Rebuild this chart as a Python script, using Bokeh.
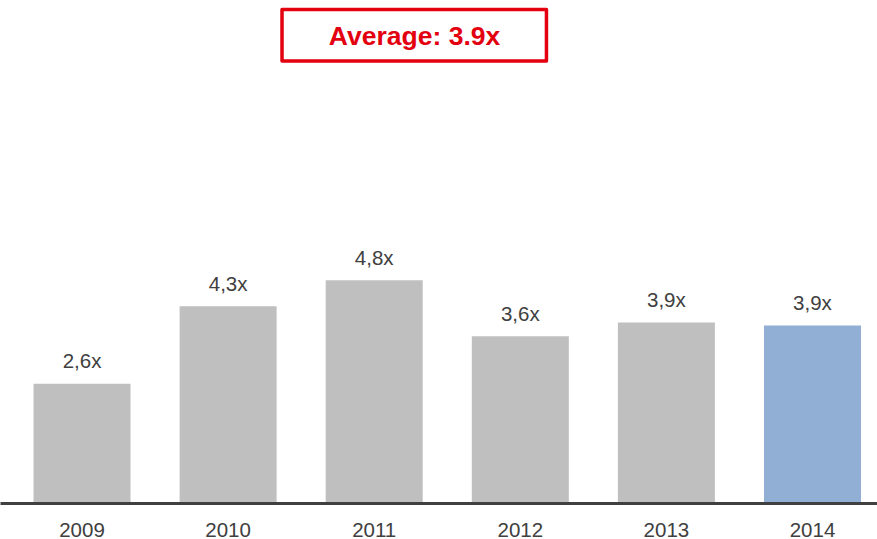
from bokeh.plotting import figure
from bokeh.models import ColumnDataSource, Range1d, FixedTicker, Label
from bokeh.core.properties import value
from bokeh.embed import file_html
from bokeh.resources import INLINE

# ---- data ----
years = ["2009", "2010", "2011", "2012", "2013", "2014"]
multiples = [2.59, 4.27, 4.83, 3.62, 3.92, 3.85]
labels = ["2,6x", "4,3x", "4,8x", "3,6x", "3,9x", "3,9x"]
colors = ["#BFBFBF", "#BFBFBF", "#BFBFBF", "#BFBFBF", "#BFBFBF", "#91AED4"]
average_text = "Average: 3.9x"

FONT = "Liberation Sans"
TXT = "#404040"
RED = "#E3000F"

xs = list(range(len(years)))
src = ColumnDataSource(dict(x=xs, top=multiples, label=labels, color=colors))

p = figure(width=877, height=539, output_backend="svg", toolbar_location=None,
           x_range=Range1d(-0.558, 5.445), y_range=Range1d(0, 10.887),
           y_axis_location=None, min_border_left=0, min_border_right=0,
           min_border_top=0, min_border_bottom=36)
p.outline_line_color = None
p.xgrid.visible = False
p.ygrid.visible = False
p.background_fill_color = "white"
p.border_fill_color = "white"

p.vbar(x="x", top="top", bottom=0, width=0.664, color="color", source=src, line_color=None)
p.text(x="x", y="top", text="label", source=src, y_offset=-23,
       text_align="center", text_baseline="alphabetic",
       text_font=value(FONT), text_font_size="20.5px", text_color=TXT)

xa = p.xaxis[0]
xa.ticker = FixedTicker(ticks=xs)
xa.major_label_overrides = {i: y for i, y in zip(xs, years)}
xa.axis_line_color = TXT
xa.axis_line_width = 3
xa.major_tick_line_color = None
xa.minor_tick_line_color = None
xa.major_label_text_font = FONT
xa.major_label_text_font_size = "20.5px"
xa.major_label_text_color = TXT
xa.major_label_standoff = 13

# average box
p.quad(left=[1.369], right=[3.179], top=[10.693], bottom=[9.578],
       fill_color="white", line_color=RED, line_width=3.5, line_join="round")
p.add_layout(Label(x=2.276, y=10.108, text=average_text, text_align="center",
                   text_baseline="middle", text_font=FONT, text_font_size="26.5px",
                   text_font_style="bold", text_color=RED))

open("out.html", "w").write(file_html(p, INLINE))
